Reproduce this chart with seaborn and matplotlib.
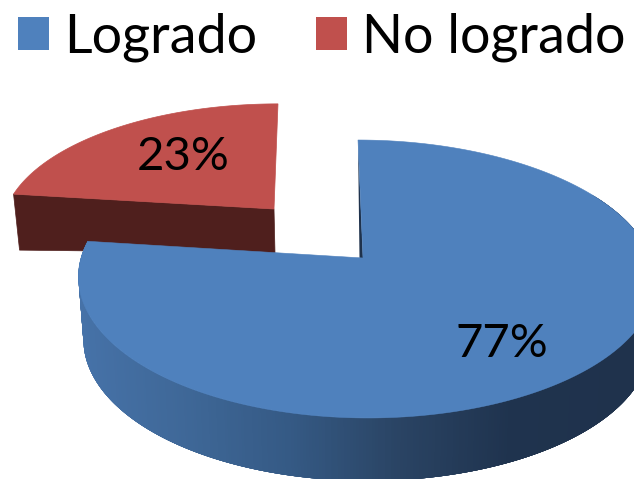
import numpy as np
import matplotlib
matplotlib.use("Agg")
import matplotlib.pyplot as plt
from matplotlib.patches import Patch, Polygon
import seaborn as sns

# Data
labels = ["Logrado", "No logrado"]
values = [77, 23]

# Style
BLUE, RED = "#4f81bd", "#c0504d"
RED_SIDE = "#4f1f1d"
BLUE_SIDE_STOPS = ["#4672a8", "#3f6898", "#355a85", "#2a4464", "#1f334e", "#1f324c"]
FONT = ["Lato", "DejaVu Sans"]

sns.set_theme(style="white")
plt.rcParams["font.family"] = FONT

fig = plt.figure(figsize=(6.34, 4.79), dpi=100)
ax = fig.add_axes([0, 0, 1, 1])
ax.set_xlim(0, 634)
ax.set_ylim(479, 0)
ax.axis("off")


def rim(theta, ax0, ay0, r_left, r_right, b, c=0.151, skew=0.0):
    """Perspective projection of the pie rim; theta is clockwise from 12 o'clock."""
    s, y = np.sin(theta), np.cos(theta)
    r = (r_left + r_right) / 2 + (r_right - r_left) / 2 * s
    d = 1 + c * y
    return np.column_stack([ax0 + r * s / d + skew * y, ay0 - b * y / d])


total = sum(values)
split = 2 * np.pi * values[0] / total

# Exploded red slice
red_apex = (274, 209)
red_th = np.linspace(split, 2 * np.pi, 120)
red_rim = rim(red_th, *red_apex, 268, 268, 121, skew=4)
corner = red_rim[0]
ax.add_patch(Polygon([corner, red_apex,
                      (red_apex[0] + 1, red_apex[1] + 44),
                      (corner[0] + 6, corner[1] + 56)],
                     closed=True, fc=RED_SIDE, ec=RED_SIDE, lw=0.5))
ax.add_patch(Polygon(np.vstack([red_rim, red_apex]), closed=True, fc=RED, ec=RED, lw=0.5))

# Blue slice: gradient wall first, then top surface
blue_apex = (363, 258)
top = lambda t: rim(t, *blue_apex, 282, 288, 135.8, skew=-5)
low = lambda t: rim(t, blue_apex[0], blue_apex[1] + 63, 277, 283, 135.8, skew=-5)
wall_th = np.linspace(np.radians(60), split, 400)
pt, pb = top(wall_th), low(wall_th)
ramp = sns.blend_palette(BLUE_SIDE_STOPS, n_colors=256)
# painted from the right to the left, each strip running on under the next so no seams show
for i in range(len(wall_th) - 2, -1, -1):
    j = min(i + 6, len(wall_th) - 1)
    x_mid = (pt[i, 0] + pb[i, 0]) / 2
    col = ramp[int(np.clip((x_mid - 85) / (634 - 85) * 255, 0, 255))]
    outer = np.vstack([pt[i:j + 1], pb[i:j + 1][::-1]])
    ax.add_patch(Polygon(outer, closed=True, fc=col, ec="none"))

# thin visible cut face at 12 o'clock
p0 = top(np.array([0.0]))[0]
ax.add_patch(Polygon([p0, blue_apex, (blue_apex[0] - 3.5, blue_apex[1])],
                     closed=True, fc="#1f324c", ec="none"))

top_th = np.linspace(0, split, 400)
ax.add_patch(Polygon(np.vstack([top(top_th), blue_apex]), closed=True, fc=BLUE, ec=BLUE, lw=0.4))

# Percent labels
label_pos = [(502, 344), (183, 157)]
for v, (x, y) in zip(values, label_pos):
    ax.text(x, y, f"{v}%", ha="center", va="center", fontsize=34, color="black")

# Legend
handles = [Patch(facecolor=BLUE, edgecolor="none"), Patch(facecolor=RED, edgecolor="none")]
ax.legend(handles, labels, loc="upper left", bbox_to_anchor=(18 / 634, 1 - 12.5 / 479),
          ncols=2, frameon=False, fontsize=38.8, borderpad=0, borderaxespad=0,
          handlelength=0.575, handleheight=0.59, handletextpad=0.28, columnspacing=1.09,
          labelcolor="black")

fig.savefig("out.png", dpi=100)
